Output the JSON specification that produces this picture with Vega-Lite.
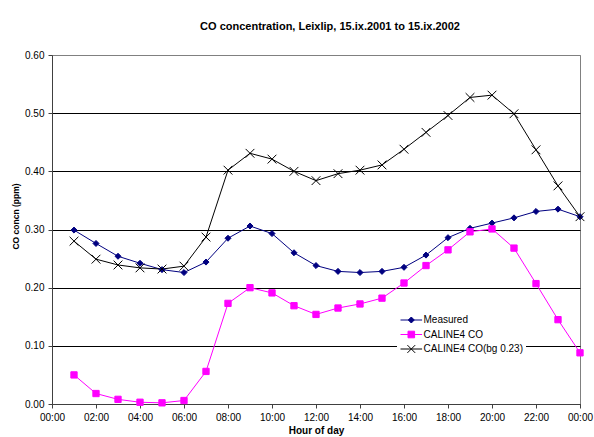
{
  "$schema": "https://vega.github.io/schema/vega-lite/v6.json",
  "width": 528,
  "height": 349,
  "autosize": {"type": "none"},
  "padding": {"left": 52, "top": 55, "right": 14, "bottom": 33},
  "background": "white",
  "config": {
    "font": "Liberation Sans",
    "view": {"stroke": "#808080", "strokeWidth": 1}
  },
  "title": {
    "text": "CO concentration, Leixlip, 15.ix.2001 to 15.ix.2002",
    "fontSize": 11,
    "fontWeight": "bold",
    "color": "black",
    "anchor": "middle",
    "frame": "group",
    "dx": 14,
    "offset": 7.5,
    "baseline": "bottom"
  },
  "data": {
    "values": [
      {"hour": 1, "series": "Measured", "value": 0.299},
      {"hour": 2, "series": "Measured", "value": 0.276},
      {"hour": 3, "series": "Measured", "value": 0.254},
      {"hour": 4, "series": "Measured", "value": 0.242},
      {"hour": 5, "series": "Measured", "value": 0.231},
      {"hour": 6, "series": "Measured", "value": 0.226},
      {"hour": 7, "series": "Measured", "value": 0.244},
      {"hour": 8, "series": "Measured", "value": 0.285},
      {"hour": 9, "series": "Measured", "value": 0.306},
      {"hour": 10, "series": "Measured", "value": 0.293},
      {"hour": 11, "series": "Measured", "value": 0.260},
      {"hour": 12, "series": "Measured", "value": 0.238},
      {"hour": 13, "series": "Measured", "value": 0.228},
      {"hour": 14, "series": "Measured", "value": 0.226},
      {"hour": 15, "series": "Measured", "value": 0.228},
      {"hour": 16, "series": "Measured", "value": 0.235},
      {"hour": 17, "series": "Measured", "value": 0.256},
      {"hour": 18, "series": "Measured", "value": 0.286},
      {"hour": 19, "series": "Measured", "value": 0.302},
      {"hour": 20, "series": "Measured", "value": 0.311},
      {"hour": 21, "series": "Measured", "value": 0.320},
      {"hour": 22, "series": "Measured", "value": 0.331},
      {"hour": 23, "series": "Measured", "value": 0.335},
      {"hour": 24, "series": "Measured", "value": 0.322},
      {"hour": 1, "series": "CALINE4 CO", "value": 0.050},
      {"hour": 2, "series": "CALINE4 CO", "value": 0.018},
      {"hour": 3, "series": "CALINE4 CO", "value": 0.008},
      {"hour": 4, "series": "CALINE4 CO", "value": 0.003},
      {"hour": 5, "series": "CALINE4 CO", "value": 0.002},
      {"hour": 6, "series": "CALINE4 CO", "value": 0.006},
      {"hour": 7, "series": "CALINE4 CO", "value": 0.056},
      {"hour": 8, "series": "CALINE4 CO", "value": 0.173},
      {"hour": 9, "series": "CALINE4 CO", "value": 0.200},
      {"hour": 10, "series": "CALINE4 CO", "value": 0.191},
      {"hour": 11, "series": "CALINE4 CO", "value": 0.169},
      {"hour": 12, "series": "CALINE4 CO", "value": 0.154},
      {"hour": 13, "series": "CALINE4 CO", "value": 0.165},
      {"hour": 14, "series": "CALINE4 CO", "value": 0.172},
      {"hour": 15, "series": "CALINE4 CO", "value": 0.182},
      {"hour": 16, "series": "CALINE4 CO", "value": 0.208},
      {"hour": 17, "series": "CALINE4 CO", "value": 0.238},
      {"hour": 18, "series": "CALINE4 CO", "value": 0.265},
      {"hour": 19, "series": "CALINE4 CO", "value": 0.296},
      {"hour": 20, "series": "CALINE4 CO", "value": 0.301},
      {"hour": 21, "series": "CALINE4 CO", "value": 0.268},
      {"hour": 22, "series": "CALINE4 CO", "value": 0.207},
      {"hour": 23, "series": "CALINE4 CO", "value": 0.145},
      {"hour": 24, "series": "CALINE4 CO", "value": 0.088},
      {"hour": 1, "series": "CALINE4 CO(bg 0.23)", "value": 0.280},
      {"hour": 2, "series": "CALINE4 CO(bg 0.23)", "value": 0.249},
      {"hour": 3, "series": "CALINE4 CO(bg 0.23)", "value": 0.239},
      {"hour": 4, "series": "CALINE4 CO(bg 0.23)", "value": 0.234},
      {"hour": 5, "series": "CALINE4 CO(bg 0.23)", "value": 0.232},
      {"hour": 6, "series": "CALINE4 CO(bg 0.23)", "value": 0.237},
      {"hour": 7, "series": "CALINE4 CO(bg 0.23)", "value": 0.287},
      {"hour": 8, "series": "CALINE4 CO(bg 0.23)", "value": 0.402},
      {"hour": 9, "series": "CALINE4 CO(bg 0.23)", "value": 0.431},
      {"hour": 10, "series": "CALINE4 CO(bg 0.23)", "value": 0.421},
      {"hour": 11, "series": "CALINE4 CO(bg 0.23)", "value": 0.400},
      {"hour": 12, "series": "CALINE4 CO(bg 0.23)", "value": 0.384},
      {"hour": 13, "series": "CALINE4 CO(bg 0.23)", "value": 0.396},
      {"hour": 14, "series": "CALINE4 CO(bg 0.23)", "value": 0.402},
      {"hour": 15, "series": "CALINE4 CO(bg 0.23)", "value": 0.411},
      {"hour": 16, "series": "CALINE4 CO(bg 0.23)", "value": 0.438},
      {"hour": 17, "series": "CALINE4 CO(bg 0.23)", "value": 0.467},
      {"hour": 18, "series": "CALINE4 CO(bg 0.23)", "value": 0.496},
      {"hour": 19, "series": "CALINE4 CO(bg 0.23)", "value": 0.527},
      {"hour": 20, "series": "CALINE4 CO(bg 0.23)", "value": 0.531},
      {"hour": 21, "series": "CALINE4 CO(bg 0.23)", "value": 0.499},
      {"hour": 22, "series": "CALINE4 CO(bg 0.23)", "value": 0.437},
      {"hour": 23, "series": "CALINE4 CO(bg 0.23)", "value": 0.375},
      {"hour": 24, "series": "CALINE4 CO(bg 0.23)", "value": 0.322}
    ]
  },
  "encoding": {
    "x": {
      "field": "hour",
      "type": "quantitative",
      "scale": {"domain": [0, 24], "nice": false, "zero": false},
      "axis": {
        "title": "Hour of day",
        "values": [0, 2, 4, 6, 8, 10, 12, 14, 16, 18, 20, 22, 24],
        "labelExpr": "(datum.value % 24 < 10 ? '0' : '') + (datum.value % 24) + ':00'",
        "grid": false,
        "tickSize": 4,
        "labelPadding": 4,
        "labelFontSize": 10,
        "labelColor": "black",
        "labelFlush": false,
        "labelOverlap": false,
        "titleFontSize": 10,
        "titleFontWeight": "bold",
        "titleColor": "black",
        "titlePadding": 3,
        "domainColor": "#404040",
        "tickColor": "#404040"
      }
    },
    "y": {
      "field": "value",
      "type": "quantitative",
      "scale": {"domain": [0, 0.6], "nice": false},
      "axis": {
        "title": "CO concn (ppm)",
        "values": [0, 0.1, 0.2, 0.3, 0.4, 0.5, 0.6],
        "format": ".2f",
        "grid": true,
        "gridColor": {"condition": {"test": "datum.value > 0.59", "value": "#808080"}, "value": "black"},
        "gridWidth": 1,
        "tickSize": 4,
        "labelPadding": 4,
        "labelFontSize": 10,
        "labelColor": "black",
        "titleFontSize": 8.5,
        "titleFontWeight": "bold",
        "titleColor": "black",
        "titlePadding": 4,
        "titleY": 161,
        "domainColor": "#404040",
        "tickColor": "#404040"
      }
    }
  },
  "layer": [
    {
      "mark": {"type": "line", "strokeWidth": 1},
      "encoding": {
        "color": {
          "field": "series",
          "type": "nominal",
          "scale": {
            "domain": ["Measured", "CALINE4 CO", "CALINE4 CO(bg 0.23)"],
            "range": ["#000080", "#FF00FF", "#000000"]
          },
          "legend": {
            "title": null,
            "orient": "none",
            "legendX": 345,
            "legendY": 255.5,
            "fillColor": "white",
            "padding": 3,
            "symbolSize": 144,
            "symbolStrokeWidth": 1,
            "labelFontSize": 10,
            "labelColor": "black",
            "labelOffset": 10.5,
            "rowPadding": 2.5,
            "encode": {
              "symbols": {
                "update": {
                  "shape": {"signal": "datum.value === 'Measured' ? 'M-1,0H2.6M0.8,-0.5L1.3,0L0.8,0.5L0.3,0Z' : datum.value === 'CALINE4 CO' ? 'M-1,0H2.6M0.25,-0.55H1.35V0.55H0.25Z' : 'M-1,0H2.6M0.15,-0.65L1.45,0.65M0.15,0.65L1.45,-0.65'"},
                  "fill": {"signal": "datum.value === 'Measured' ? '#000080' : datum.value === 'CALINE4 CO' ? '#FF00FF' : 'transparent'"},
                  "stroke": {"signal": "datum.value === 'Measured' ? '#000080' : datum.value === 'CALINE4 CO' ? '#FF00FF' : '#000000'"},
                  "opacity": {"value": 1}
                }
              }
            }
          }
        }
      }
    },
    {
      "transform": [{"filter": "datum.series === 'Measured'"}],
      "mark": {"type": "point", "filled": true, "size": 30, "opacity": 1, "strokeWidth": 1, "shape": "M0,-1.1L1.1,0L0,1.1L-1.1,0Z", "fill": "#000080", "stroke": "#000080"}
    },
    {
      "transform": [{"filter": "datum.series === 'CALINE4 CO'"}],
      "mark": {"type": "point", "filled": true, "size": 30, "opacity": 1, "strokeWidth": 1, "shape": "M-1.15,-1.15H1.15V1.15H-1.15Z", "fill": "#FF00FF", "stroke": "#FF00FF"}
    },
    {
      "transform": [{"filter": "datum.series === 'CALINE4 CO(bg 0.23)'"}],
      "mark": {"type": "point", "filled": true, "size": 30, "opacity": 1, "strokeWidth": 1, "shape": "M-1.6,-1.6L1.6,1.6M-1.6,1.6L1.6,-1.6", "fill": "transparent", "stroke": "#000000"}
    }
  ]
}
